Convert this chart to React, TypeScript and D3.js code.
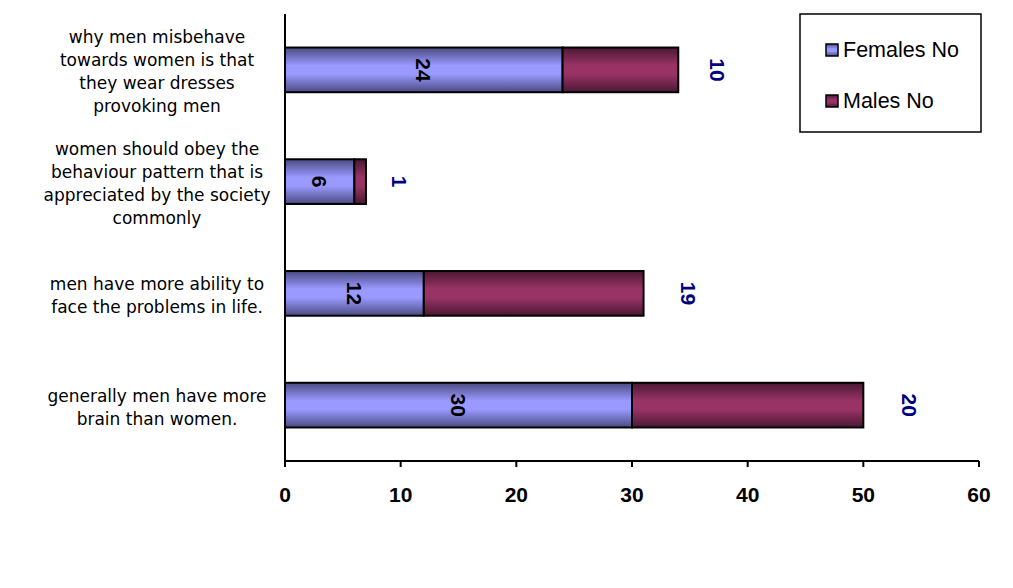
import React from "react";
import * as d3 from "d3";

// Survey statements (top to bottom) and responses
const categories: string[][] = [
  ["why men misbehave", "towards women is that", "they wear dresses", "provoking men"],
  ["women should obey the", "behaviour pattern that is", "appreciated by the society", "commonly"],
  ["men have more ability to", "face the problems in life."],
  ["generally men have more", "brain than women."],
];
const femalesNo = [24, 6, 12, 30];
const malesNo = [10, 1, 19, 20];
const xTicks = [0, 10, 20, 30, 40, 50, 60];
const seriesNames = ["Females No", "Males No"];

const W = 1013;
const H = 588;
const plot = { left: 285, right: 979, top: 14, bottom: 461 };
const font = "'Liberation Sans', Arial, sans-serif";
const catFont = "'DejaVu Sans', Verdana, sans-serif";

export default function App() {
  const x = d3.scaleLinear().domain([0, 60]).range([plot.left, plot.right]);
  const y = d3
    .scaleBand<number>()
    .domain(d3.range(categories.length))
    .range([plot.top, plot.bottom])
    .paddingInner(0.6)
    .paddingOuter(0.3);
  const band = (plot.bottom - plot.top) / categories.length;

  return (
    <svg
      width={W}
      height={H}
      style={{ position: "fixed", left: 0, top: 0, background: "#fff" }}
      fontFamily={font}
    >
      <defs>
        <linearGradient id="gFem" x1="0" y1="0" x2="0" y2="1">
          <stop offset="0" stopColor="#4a4a80" />
          <stop offset="0.4" stopColor="#9999ff" />
          <stop offset="0.6" stopColor="#9999ff" />
          <stop offset="1" stopColor="#4a4a80" />
        </linearGradient>
        <linearGradient id="gMal" x1="0" y1="0" x2="0" y2="1">
          <stop offset="0" stopColor="#4a1832" />
          <stop offset="0.4" stopColor="#993366" />
          <stop offset="0.6" stopColor="#993366" />
          <stop offset="1" stopColor="#4a1832" />
        </linearGradient>
      </defs>

      {/* category labels */}
      {categories.map((lines, i) => {
        const cy = plot.top + band * (i + 0.5) + 2;
        const lh = 23;
        return (
          <text key={i} fontSize={17} fontFamily={catFont} textAnchor="middle" fill="#000">
            {lines.map((l, j) => (
              <tspan
                key={j}
                x={157}
                y={cy + (j - (lines.length - 1) / 2) * lh}
                dominantBaseline="central"
              >
                {l}
              </tspan>
            ))}
          </text>
        );
      })}

      {/* bars */}
      {categories.map((_, i) => {
        const by = y(i)!;
        const bh = y.bandwidth();
        const f = femalesNo[i];
        const m = malesNo[i];
        const cy = by + bh / 2;
        const fx = (x(0) + x(f)) / 2;
        const mx = x(f + m * 1.056) + 33;
        return (
          <g key={i}>
            <rect x={x(0)} y={by} width={x(f) - x(0)} height={bh} fill="url(#gFem)" stroke="#000" strokeWidth={2} />
            <rect x={x(f)} y={by} width={x(f + m) - x(f)} height={bh} fill="url(#gMal)" stroke="#000" strokeWidth={2} />
            <text
              transform={`translate(${fx},${cy}) rotate(90)`}
              textAnchor="middle"
              dominantBaseline="central"
              fontSize={21}
              fontWeight="bold"
              fill="#000"
            >
              {f}
            </text>
            <text
              transform={`translate(${mx},${cy}) rotate(90)`}
              textAnchor="middle"
              dominantBaseline="central"
              fontSize={21}
              fontWeight="bold"
              fill="#000080"
            >
              {m}
            </text>
          </g>
        );
      })}

      {/* axes */}
      <line x1={plot.left} x2={plot.left} y1={plot.top} y2={plot.bottom} stroke="#000" strokeWidth={2} />
      <line x1={plot.left} x2={plot.right} y1={plot.bottom} y2={plot.bottom} stroke="#000" strokeWidth={2} />
      {xTicks.map((t) => (
        <g key={t}>
          <line x1={x(t)} x2={x(t)} y1={plot.bottom} y2={plot.bottom + 6} stroke="#000" strokeWidth={2} />
          <text x={x(t)} y={494} textAnchor="middle" dominantBaseline="central" fontSize={21} fontWeight="bold">
            {t}
          </text>
        </g>
      ))}

      {/* legend */}
      <rect x={800} y={14} width={181} height={118} fill="#fff" stroke="#000" strokeWidth={1.5} />
      {seriesNames.map((s, i) => {
        const ly = 50 + i * 51;
        return (
          <g key={s}>
            <rect x={826} y={ly - 6} width={12} height={12} fill={i === 0 ? "url(#gFem)" : "url(#gMal)"} stroke="#000" strokeWidth={1.5} />
            <text x={843} y={ly} dominantBaseline="central" fontSize={21.5}>
              {s}
            </text>
          </g>
        );
      })}
    </svg>
  );
}
